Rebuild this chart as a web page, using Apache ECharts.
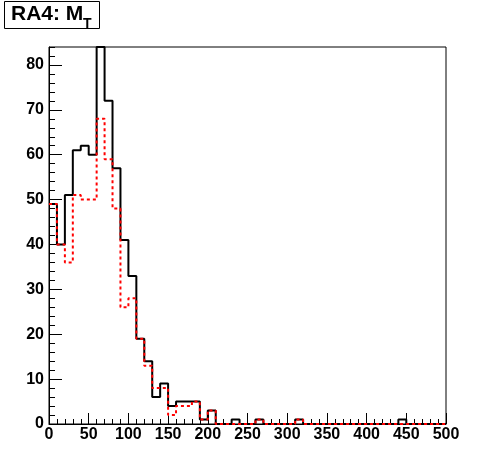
<!DOCTYPE html>
<html>
<head>
<meta charset="utf-8">
<script src="https://cdn.jsdelivr.net/npm/echarts@6/dist/echarts.min.js"></script>
<style>
html,body{margin:0;padding:0;background:#fff;}
#chart{width:496px;height:472px;}
</style>
</head>
<body>
<div id="chart"></div>
<script>
// Bin edges: 0..500 in steps of 10 (50 bins)
const binWidth = 10;
const xMin = 0;
const xMax = 500;
const yMax = 84;
const xTickLabels = ['0','50','100','150','200','250','300','350','400','450','500'];
const yTickLabels = ['0','10','20','30','40','50','60','70','80'];
const titleMain = 'RA4: M';
const titleSub = 'T';

// Black solid histogram (counts per bin)
const blackCounts = [49,40,51,61,62,60,84,72,57,41,33,19,14,6,9,4,5,5,5,1,
                     3,0,0,1,0,0,1,0,0,0,0,1,0,0,0,0,0,0,0,0,
                     0,0,0,0,1,0,0,0,0,0];
// Red dotted histogram (counts per bin)
const redCounts   = [49,40,36,51,50,50,68,59,48,26,28,19,13,8,8,2,4,4,5,1,
                     3,0,0,0,0,0,1,0,0,0,0,1,0,0,0,0,0,0,0,0,
                     0,0,0,0,0,0,0,0,0,0];

function stepData(counts){
  const d = [];
  for (let i = 0; i < counts.length; i++) d.push([xMin + i*binWidth, counts[i]]);
  d.push([xMin + counts.length*binWidth, counts[counts.length-1]]);
  return d;
}

const font = '"Liberation Sans", Arial, Helvetica, sans-serif';
const chart = echarts.init(document.getElementById('chart'), null, {renderer:'canvas'});
const option = {
  backgroundColor: '#ffffff',
  animation: false,
  grid: {left: 49, top: 47, width: 397, height: 377, show: true,
         borderColor: '#000', borderWidth: 1, backgroundColor: 'transparent'},
  xAxis: {
    type: 'value', min: xMin, max: xMax, interval: 50,
    axisLine: {show: true, lineStyle: {color: '#000', width: 1}},
    axisTick: {show: true, inside: true, length: 11, lineStyle: {color: '#000', width: 1}},
    minorTick: {show: true, splitNumber: 5, length: 5, lineStyle: {color: '#000', width: 1}},
    splitLine: {show: false},
    axisLabel: {show: true, margin: 3, color: '#000', fontSize: 16, fontWeight: 'bold', fontFamily: font,
      formatter: function(v){ const i = Math.round(v/50); return xTickLabels[i] !== undefined ? xTickLabels[i] : ''; }}
  },
  yAxis: [
    {
      type: 'value', min: 0, max: yMax, interval: 2,
      axisLine: {show: true, lineStyle: {color: '#000', width: 1}},
      axisTick: {show: true, inside: true, length: 6, lineStyle: {color: '#000', width: 1}},
      splitLine: {show: false},
      axisLabel: {show: false}
    },
    {
      type: 'value', min: 0, max: yMax, interval: 10, position: 'left',
      axisLine: {show: false},
      axisTick: {show: true, inside: true, length: 13, lineStyle: {color: '#000', width: 1}},
      splitLine: {show: false},
      axisLabel: {show: true, margin: 5, color: '#000', fontSize: 16, fontWeight: 'bold', fontFamily: font,
        showMaxLabel: false,
        formatter: function(v){ if (v % 10 !== 0) return ''; const i = Math.round(v/10); return yTickLabels[i] !== undefined ? yTickLabels[i] : ''; }}
    }
  ],
  series: [
    {type: 'line', step: 'end', data: stepData(blackCounts), yAxisIndex: 0, symbol: 'none',
     clip: true, lineStyle: {color: '#000', width: 2}, z: 2},
    {type: 'line', step: 'end', data: stepData(redCounts), yAxisIndex: 0, symbol: 'none',
     clip: true, lineStyle: {color: '#ff0000', width: 2, type: [3,3]}, z: 3}
  ],
  graphic: [
    {type: 'rect', shape: {x: 4.5, y: 1.5, width: 95, height: 27},
     style: {fill: '#fff', stroke: '#000', lineWidth: 1}, z: 10},
    {type: 'text', x: 11, y: 4, z: 11,
     style: {text: titleMain, fill: '#000', font: 'bold 21px ' + font, textVerticalAlign: 'top'}},
    {type: 'text', x: 83, y: 17, z: 11,
     style: {text: titleSub, fill: '#000', font: 'bold 14px ' + font, textVerticalAlign: 'top'}}
  ]
};
chart.setOption(option);
</script>
</body>
</html>
